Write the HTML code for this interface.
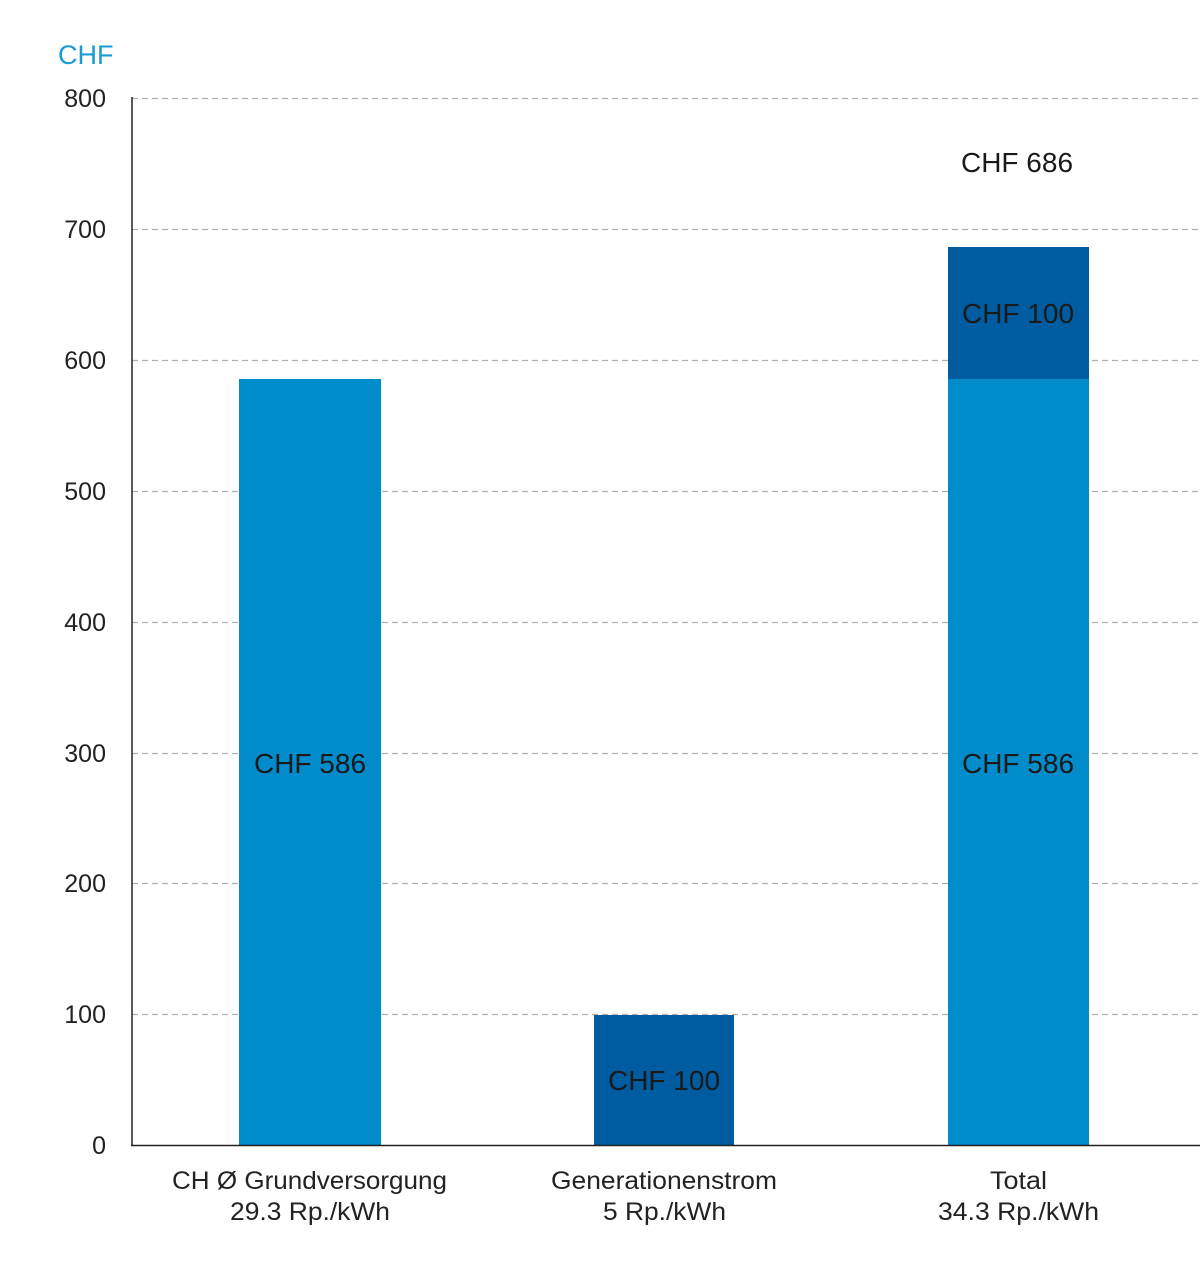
<!DOCTYPE html>
<html><head><meta charset="utf-8"><style>
html,body{margin:0;padding:0;background:#fff;}
svg text{font-family:"Liberation Sans",sans-serif;}
</style></head><body>
<svg width="1200" height="1258" viewBox="0 0 1200 1258" xmlns="http://www.w3.org/2000/svg">
<rect width="1200" height="1258" fill="#fff"/>
<text x="58" y="64" font-size="27" fill="#1a9bd6">CHF</text>
<g stroke="#b0b0b0" stroke-width="1.3" stroke-dasharray="6,4">
<line x1="132" y1="98.5" x2="1200" y2="98.5"/>
<line x1="132" y1="229.5" x2="1200" y2="229.5"/>
<line x1="132" y1="360.5" x2="1200" y2="360.5"/>
<line x1="132" y1="491.5" x2="1200" y2="491.5"/>
<line x1="132" y1="622.5" x2="1200" y2="622.5"/>
<line x1="132" y1="753.5" x2="1200" y2="753.5"/>
<line x1="132" y1="883.5" x2="1200" y2="883.5"/>
<line x1="132" y1="1014.5" x2="1200" y2="1014.5"/>
</g>
<g font-size="25" fill="#222" text-anchor="end">
<text x="106" y="107">800</text>
<text x="106" y="238">700</text>
<text x="106" y="369">600</text>
<text x="106" y="500">500</text>
<text x="106" y="631">400</text>
<text x="106" y="762">300</text>
<text x="106" y="892">200</text>
<text x="106" y="1023">100</text>
<text x="106" y="1154">0</text>
</g>
<rect x="239" y="379" width="142" height="766" fill="#008bcb"/>
<rect x="594" y="1015" width="140" height="130" fill="#005ca0"/>
<rect x="948" y="379" width="141" height="766" fill="#008bcb"/>
<rect x="948" y="247" width="141" height="132" fill="#005ca0"/>
<line x1="132" y1="97" x2="132" y2="1146" stroke="#222" stroke-width="1.5"/>
<line x1="131" y1="1145.5" x2="1200" y2="1145.5" stroke="#222" stroke-width="1.5"/>
<g font-size="28" fill="#1a1a1a" text-anchor="middle">
<text x="310" y="773">CHF 586</text>
<text x="664" y="1090">CHF 100</text>
<text x="1018" y="773">CHF 586</text>
<text x="1018" y="323">CHF 100</text>
<text x="1017" y="172">CHF 686</text>
</g>
<g font-size="25" fill="#222">
<text x="172" y="1189" textLength="275" lengthAdjust="spacingAndGlyphs">CH Ø Grundversorgung</text>
<text x="230" y="1220" textLength="160" lengthAdjust="spacingAndGlyphs">29.3 Rp./kWh</text>
<text x="551" y="1189" textLength="226" lengthAdjust="spacingAndGlyphs">Generationenstrom</text>
<text x="603" y="1220" textLength="123" lengthAdjust="spacingAndGlyphs">5 Rp./kWh</text>
<text x="990" y="1189" textLength="57" lengthAdjust="spacingAndGlyphs">Total</text>
<text x="938" y="1220" textLength="161" lengthAdjust="spacingAndGlyphs">34.3 Rp./kWh</text>
</g>
</svg>
</body></html>
